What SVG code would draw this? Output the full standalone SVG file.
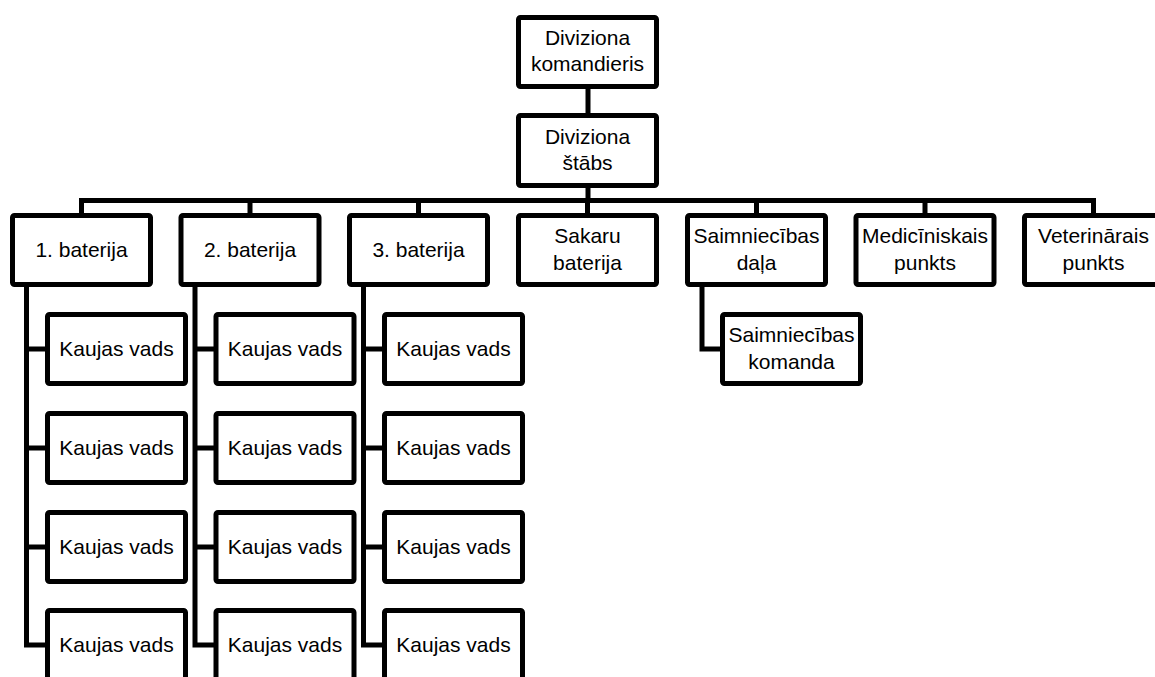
<svg xmlns="http://www.w3.org/2000/svg" width="1155" height="677" viewBox="0 0 1155 677">
<style>
.box{fill:#fff;stroke:#000;stroke-width:5;}
.ln{fill:none;stroke:#000;stroke-width:5;stroke-linejoin:miter;}
text{font-family:"Liberation Sans",Arial,sans-serif;font-size:21px;fill:#000;text-anchor:middle;}
</style>
<rect width="1155" height="677" fill="#fff"/>
<g id="connectors">
<path class="ln" d="M588 86 V115.5"/>
<path class="ln" d="M588 185.5 V200.5"/>
<path class="ln" d="M81.5 215.5 V200.5 H1093.5 V215.5"/>
<path class="ln" d="M250 200.5 V215.5 M418.5 200.5 V215.5 M587.5 200.5 V215.5 M756.5 200.5 V215.5 M925 200.5 V215.5"/>
<path class="ln" d="M26.5 284.5 V645 H47.5 M26.5 349 H47.5 M26.5 448 H47.5 M26.5 547 H47.5"/>
<path class="ln" d="M195 284.5 V645 H216 M195 349 H216 M195 448 H216 M195 547 H216"/>
<path class="ln" d="M363.5 284.5 V645 H384.5 M363.5 349 H384.5 M363.5 448 H384.5 M363.5 547 H384.5"/>
<path class="ln" d="M702 284.5 V349 H722.5"/>
</g>
<g id="n-komandieris"><rect class="box" x="518.5" y="17.5" width="138" height="69" rx="2"/><text x="587.5" y="45">Diviziona</text><text x="587.5" y="71">komandieris</text></g>
<g id="n-stabs"><rect class="box" x="518.5" y="115.5" width="138" height="70" rx="2"/><text x="587.5" y="144">Diviziona</text><text x="587.5" y="170">štābs</text></g>
<g id="n-bat1"><rect class="box" x="12.5" y="215.5" width="138" height="69" rx="2"/><text x="81.5" y="257">1. baterija</text></g>
<g id="n-bat2"><rect class="box" x="181" y="215.5" width="138" height="69" rx="2"/><text x="250" y="257">2. baterija</text></g>
<g id="n-bat3"><rect class="box" x="349.5" y="215.5" width="138" height="69" rx="2"/><text x="418.5" y="257">3. baterija</text></g>
<g id="n-sakaru"><rect class="box" x="518.5" y="215.5" width="138" height="69" rx="2"/><text x="587.5" y="243">Sakaru</text><text x="587.5" y="270">baterija</text></g>
<g id="n-saimdala"><rect class="box" x="687.5" y="215.5" width="138" height="69" rx="2"/><text x="756.5" y="243">Saimniecības</text><text x="756.5" y="270">daļa</text></g>
<g id="n-med"><rect class="box" x="856" y="215.5" width="138" height="69" rx="2"/><text x="925" y="243">Medicīniskais</text><text x="925" y="270">punkts</text></g>
<g id="n-vet"><rect class="box" x="1024.5" y="215.5" width="138" height="69" rx="2"/><text x="1093.5" y="243">Veterinārais</text><text x="1093.5" y="270">punkts</text></g>
<g id="n-saimkom"><rect class="box" x="722.5" y="314.5" width="138" height="69" rx="2"/><text x="791.5" y="342">Saimniecības</text><text x="791.5" y="369">komanda</text></g>
<g id="n-b1v1"><rect class="box" x="47.5" y="314.5" width="138" height="69" rx="2"/><text x="116.5" y="356">Kaujas vads</text></g>
<g id="n-b1v2"><rect class="box" x="47.5" y="413.5" width="138" height="69" rx="2"/><text x="116.5" y="455">Kaujas vads</text></g>
<g id="n-b1v3"><rect class="box" x="47.5" y="512.5" width="138" height="69" rx="2"/><text x="116.5" y="554">Kaujas vads</text></g>
<g id="n-b1v4"><rect class="box" x="47.5" y="610.5" width="138" height="69" rx="2"/><text x="116.5" y="652">Kaujas vads</text></g>
<g id="n-b2v1"><rect class="box" x="216" y="314.5" width="138" height="69" rx="2"/><text x="285" y="356">Kaujas vads</text></g>
<g id="n-b2v2"><rect class="box" x="216" y="413.5" width="138" height="69" rx="2"/><text x="285" y="455">Kaujas vads</text></g>
<g id="n-b2v3"><rect class="box" x="216" y="512.5" width="138" height="69" rx="2"/><text x="285" y="554">Kaujas vads</text></g>
<g id="n-b2v4"><rect class="box" x="216" y="610.5" width="138" height="69" rx="2"/><text x="285" y="652">Kaujas vads</text></g>
<g id="n-b3v1"><rect class="box" x="384.5" y="314.5" width="138" height="69" rx="2"/><text x="453.5" y="356">Kaujas vads</text></g>
<g id="n-b3v2"><rect class="box" x="384.5" y="413.5" width="138" height="69" rx="2"/><text x="453.5" y="455">Kaujas vads</text></g>
<g id="n-b3v3"><rect class="box" x="384.5" y="512.5" width="138" height="69" rx="2"/><text x="453.5" y="554">Kaujas vads</text></g>
<g id="n-b3v4"><rect class="box" x="384.5" y="610.5" width="138" height="69" rx="2"/><text x="453.5" y="652">Kaujas vads</text></g>
</svg>
